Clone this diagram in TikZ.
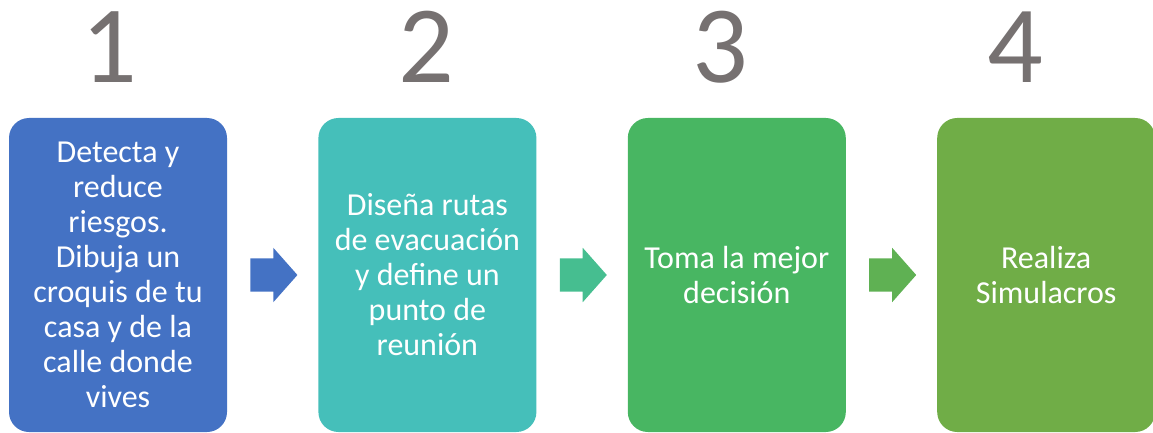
\documentclass[tikz,border=0pt]{standalone}
\usepackage{fontspec}
\setmainfont{Carlito}
\usepackage{tikz}
\usetikzlibrary{positioning,shapes.arrows}

\definecolor{blau}{HTML}{4472C4}
\definecolor{tuerkis}{HTML}{45BFBA}
\definecolor{gruen}{HTML}{48B662}
\definecolor{oliv}{HTML}{70AD47}
\definecolor{pfeilgruen}{HTML}{46BE90}
\definecolor{pfeiloliv}{HTML}{5FB153}
\definecolor{grau}{HTML}{767171}

\begin{document}
\begin{tikzpicture}[x=1pt,y=-1pt,
	schritt/.style={rectangle,rounded corners=20pt,minimum width=218pt,minimum height=314pt,
		inner sep=0pt,text=white,align=center,font=\fontsize{32}{35}\selectfont},
	pfeil/.style={single arrow,minimum height=47pt,inner xsep=0pt,inner ysep=16.5pt,
		single arrow head extend=10.5pt,single arrow tip angle=97,anchor=west},
	nummer/.style={text=grau,anchor=base,font=\fontsize{110}{110}\selectfont},
	node distance=91pt]

\useasboundingbox (0,0) rectangle (1153,433);

%-------------------------------------------------------------------------------
% Schritte
%-------------------------------------------------------------------------------
\node (schritt1) [schritt,fill=blau] at (118,275)
	{Detecta y\\reduce\\riesgos.\\Dibuja un\\croquis de tu\\casa y de la\\calle donde\\vives};
\node (schritt2) [schritt,fill=tuerkis,right=of schritt1]
	{Diseña rutas\\de evacuación\\y define un\\punto de\\reunión};
\node (schritt3) [schritt,fill=gruen,right=of schritt2]
	{Toma la mejor\\decisión};
\node (schritt4) [schritt,fill=oliv,right=of schritt3]
	{Realiza\\Simulacros};

%-------------------------------------------------------------------------------
% Pfeile
%-------------------------------------------------------------------------------
\node (pfeil1) [pfeil,fill=blau,right=23pt of schritt1] {};
\node (pfeil2) [pfeil,fill=pfeilgruen,right=23pt of schritt2] {};
\node (pfeil3) [pfeil,fill=pfeiloliv,right=23pt of schritt3] {};

%-------------------------------------------------------------------------------
% Nummern
%-------------------------------------------------------------------------------
\node (nr1) [nummer] at (109,83) {1};
\node (nr2) [nummer] at (426,83) {2};
\node (nr3) [nummer] at (720,83) {3};
\node (nr4) [nummer] at (1015,83) {4};
\end{tikzpicture}
\end{document}
